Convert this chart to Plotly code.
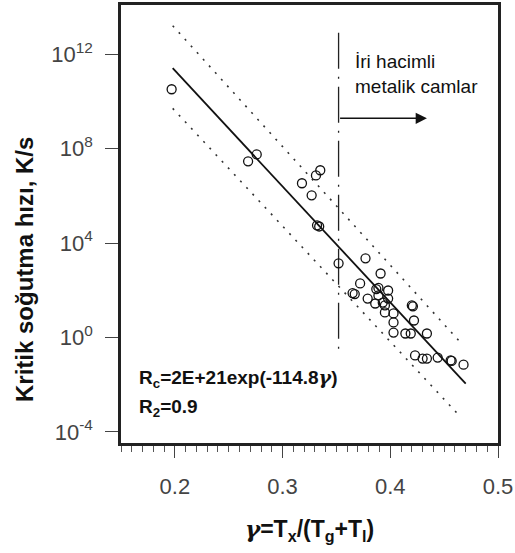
import plotly.graph_objects as go

# ---- data ----
gamma = [0.197, 0.268, 0.276, 0.318, 0.327, 0.331, 0.335, 0.332, 0.334,
         0.352, 0.377, 0.391, 0.372, 0.365, 0.367, 0.379, 0.387, 0.389,
         0.398, 0.389, 0.386, 0.393, 0.395, 0.398, 0.395, 0.403, 0.403,
         0.403, 0.414, 0.419, 0.434, 0.420, 0.421, 0.422, 0.423, 0.430,
         0.434, 0.444, 0.456, 0.457, 0.468]
log_rc = [10.51, 7.46, 7.75, 6.53, 6.02, 6.86, 7.08, 4.75, 4.70,
          3.14, 3.35, 2.71, 2.29, 1.88, 1.84, 1.65, 2.05, 2.10,
          1.99, 1.78, 1.44, 1.48, 1.36, 1.65, 1.06, 1.02, 0.64,
          0.21, 0.17, 0.17, 0.17, 1.36, 1.32, 0.72, -0.76, -0.89,
          -0.89, -0.85, -0.97, -0.99, -1.15]
rc = [10 ** v for v in log_rc]

fit_x = [0.198, 0.470]
fit_log = [11.40, -1.95]
upper_x = [0.198, 0.465]
upper_log = [13.20, -0.20]
lower_x = [0.198, 0.465]
lower_log = [9.70, -3.35]

limit_x = [0.352, 0.352]
limit_log = [12.9, -0.55]
arrow_x = [0.352, 0.434]
arrow_log = 9.28

y_tickvals = [1e-4, 1e0, 1e4, 1e8, 1e12]
y_ticktext = ["10<sup>-4</sup>", "10<sup>0</sup>", "10<sup>4</sup>",
              "10<sup>8</sup>", "10<sup>12</sup>"]
x_tickvals = [0.2, 0.3, 0.4, 0.5]
x_ticktext = ["0.2", "0.3", "0.4", "0.5"]

FONT = "Liberation Sans, Arial, sans-serif"
GAMMA = '<span style="font-family:DejaVu Serif;font-style:italic">γ</span>'

fig = go.Figure()

# prediction bands (dotted)
for bx, by in [(upper_x, upper_log), (lower_x, lower_log)]:
    fig.add_trace(go.Scatter(x=bx, y=[10 ** v for v in by], mode="lines",
                             line=dict(color="#333", width=1.6, dash="2px,7px"),
                             hoverinfo="skip", showlegend=False))

# fit line
fig.add_trace(go.Scatter(x=fit_x, y=[10 ** v for v in fit_log], mode="lines",
                         line=dict(color="#111", width=1.8),
                         showlegend=False))

# vertical dash-dot limit line
fig.add_trace(go.Scatter(x=limit_x, y=[10 ** v for v in limit_log], mode="lines",
                         line=dict(color="#222", width=1.3, dash="36px,8px,2px,8px"),
                         showlegend=False))

# data points
fig.add_trace(go.Scatter(x=gamma, y=rc, mode="markers",
                         marker=dict(symbol="circle-open", size=9,
                                     color="#111", line=dict(width=1.3, color="#111")),
                         showlegend=False))

# arrow
fig.add_annotation(x=arrow_x[1], y=arrow_log, ax=arrow_x[0], ay=arrow_log,
                   xref="x", yref="y", axref="x", ayref="y",
                   text="", showarrow=True, arrowhead=2, arrowsize=1.6,
                   arrowwidth=1.4, arrowcolor="#111")

fig.add_annotation(x=0.3656, y=11.14, xref="x", yref="y", xanchor="left",
                   yanchor="middle", align="left", showarrow=False,
                   text="İri hacimli<br>metalik camlar",
                   font=dict(family=FONT, size=19, color="#111"))

fig.add_annotation(x=0.1647, y=-1.74, xref="x", yref="y", xanchor="left",
                   yanchor="middle", showarrow=False,
                   text="<b>R<sub>c</sub>=2E+21exp(-114.8" + GAMMA + ")</b>",
                   font=dict(family=FONT, size=19, color="#111"))
fig.add_annotation(x=0.1647, y=-2.97, xref="x", yref="y", xanchor="left",
                   yanchor="middle", showarrow=False,
                   text="<b>R<sub>2</sub>=0.9</b>",
                   font=dict(family=FONT, size=19, color="#111"))

# axis titles
fig.add_annotation(x=-0.2546, y=0.395, xref="paper", yref="paper",
                   xanchor="center", yanchor="middle", textangle=-90,
                   showarrow=False, text="<b>Kritik soğutma hızı, K/s</b>",
                   font=dict(family=FONT, size=24, color="#111"))
fig.add_annotation(x=0.5, y=-0.1986, xref="paper", yref="paper",
                   xanchor="center", yanchor="middle", showarrow=False,
                   text="<b>" + GAMMA + "=T<sub>x</sub>/(T<sub>g</sub>+T<sub>l</sub>)</b>",
                   font=dict(family=FONT, size=23, color="#111"))

fig.update_xaxes(range=[0.15, 0.5], tickvals=x_tickvals, ticktext=x_ticktext,
                 ticks="outside", ticklen=12, tickwidth=1, tickcolor="#444",
                 ticklabelstandoff=10, automargin=False,
                 minor=dict(dtick=0.01, ticks="outside", ticklen=6,
                            tickcolor="#555", tick0=0.15),
                 showgrid=False, zeroline=False, showline=True, mirror=True,
                 linewidth=2.5, linecolor="#222",
                 tickfont=dict(family=FONT, size=22, color="#444"))
fig.update_yaxes(type="log", range=[-4.466, 14.076], tickvals=y_tickvals,
                 ticktext=y_ticktext, ticks="outside", ticklen=13,
                 tickwidth=1, tickcolor="#444", ticklabelstandoff=8,
                 automargin=False,
                 showgrid=False, zeroline=False, showline=True, mirror=True,
                 linewidth=2.5, linecolor="#222",
                 tickfont=dict(family=FONT, size=22, color="#444"))

fig.update_layout(width=515, height=553, plot_bgcolor="white",
                  paper_bgcolor="white",
                  margin=dict(l=121, r=17, t=5, b=110, autoexpand=False),
                  font=dict(family=FONT))

fig.write_html("out.html", config={"displayModeBar": False},
               post_script="document.body.style.margin='0';"
                           "document.body.style.overflow='hidden';")
